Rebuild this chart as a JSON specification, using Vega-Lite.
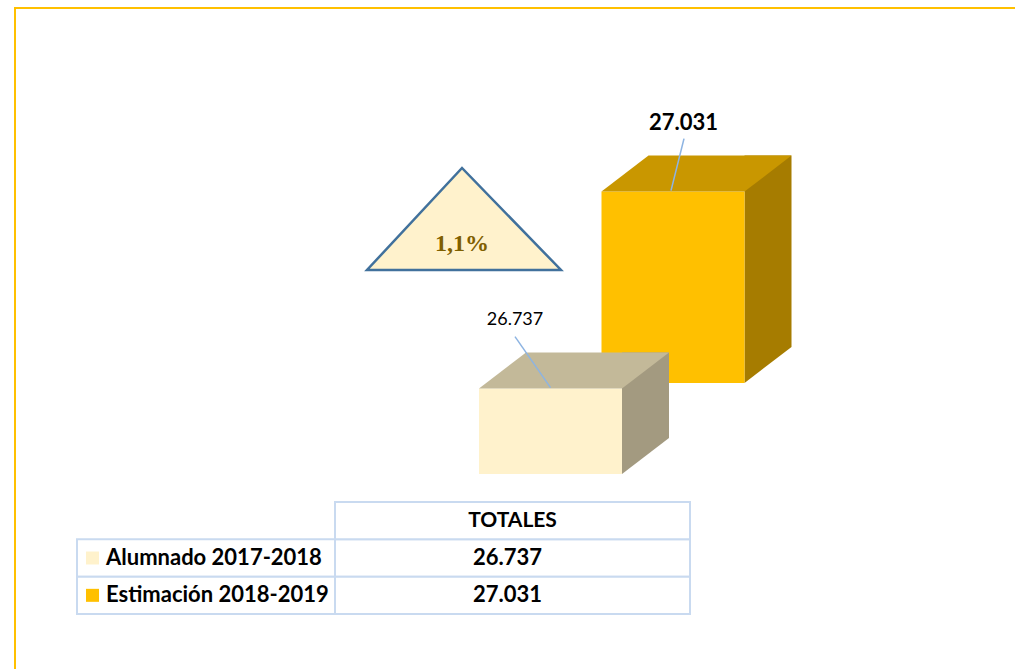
{
  "$schema": "https://vega.github.io/schema/vega-lite/v6.json",
  "autosize": {"type": "none"},
  "width": 1040,
  "height": 700,
  "padding": {"left": 15, "top": 8, "right": 0, "bottom": 0},
  "background": "white",
  "config": {
    "view": {"stroke": "#FFC000", "strokeWidth": 2},
    "axis": {"disable": true},
    "font": "Lato",
    "locale": {"number": {"decimal": ",", "thousands": ".", "grouping": [3], "currency": ["", " €"]}}
  },
  "data": {"values": [
    {"serie": "Alumnado 2017-2018", "valor": 26737},
    {"serie": "Estimación 2018-2019", "valor": 27031, "variacion": 0.011}
  ]},
  "resolve": {"scale": {"x": "independent", "y": "independent"}},
  "layer": [
    {
      "encoding": {
        "x": {"field": "serie", "type": "nominal", "axis": null,
              "scale": {"type": "point", "domain": ["Alumnado 2017-2018", "Estimación 2018-2019"], "range": [535.5, 658], "padding": 0}},
        "y": {"field": "valor", "type": "quantitative", "axis": null,
              "scale": {"domain": [26500, 27500], "range": [466, 105.5], "zero": false, "nice": false}}
      },
      "layer": [
        {
          "transform": [{"filter": {"field": "serie", "equal": "Estimación 2018-2019"}}],
          "layer": [
            {"mark": {"type": "point", "shape": "M-0.97,0L0.97,0L-0.02,-1.02Z", "size": 40000, "filled": true, "opacity": 1,
                      "fill": "#FFF2CC", "stroke": "#41719C", "strokeWidth": 2.5, "xOffset": -209, "yOffset": -204},
             "encoding": {"y": {"datum": 26500}}},
            {"mark": {"type": "text", "font": "Liberation Serif", "fontWeight": "bold", "fontSize": 24, "color": "#7F6000",
                      "align": "center", "baseline": "middle", "dx": -211, "dy": -230},
             "encoding": {"y": {"datum": 26500}, "text": {"field": "variacion", "type": "quantitative", "format": ".1%"}}},
            {"mark": {"type": "bar", "width": 47, "xOffset": 95, "yOffset": -127, "y2Offset": -127, "color": "#A67C00"},
             "encoding": {"y2": {"datum": 26500}}},
            {"mark": {"type": "point", "shape": "M0.715,-0.36L0.715,0L1.185,-0.36Z", "size": 40000, "filled": true, "opacity": 1,
                      "strokeWidth": 0, "color": "#A67C00", "yOffset": -91},
             "encoding": {"y": {"datum": 26500}}},
            {"mark": {"type": "bar", "width": 143, "yOffset": -91, "y2Offset": -91, "color": "#FFC000"},
             "encoding": {"y2": {"datum": 26500}}},
            {"mark": {"type": "point", "shape": "M-0.715,0L0.715,0L1.185,-0.36L-0.245,-0.36Z", "size": 40000, "filled": true, "opacity": 1,
                      "strokeWidth": 0, "color": "#C99700", "yOffset": -91}},
            {"mark": {"type": "point", "shape": "M-0.02,-0.01L0.11,-0.53", "size": 40000, "filled": false, "opacity": 1,
                      "stroke": "#8DB4E2", "strokeWidth": 1.5, "yOffset": -91}},
            {"mark": {"type": "text", "fontWeight": "bold", "fontSize": 22, "color": "#000000", "align": "center", "baseline": "middle",
                      "dx": 10.5, "dy": -160},
             "encoding": {"text": {"field": "valor", "type": "quantitative", "format": ",d"}}}
          ]
        },
        {
          "transform": [{"filter": {"field": "serie", "equal": "Alumnado 2017-2018"}}],
          "layer": [
            {"mark": {"type": "bar", "width": 47, "xOffset": 95, "yOffset": -36, "y2Offset": -36, "color": "#A39A80"},
             "encoding": {"y2": {"datum": 26500}}},
            {"mark": {"type": "point", "shape": "M0.715,-0.36L0.715,0L1.185,-0.36Z", "size": 40000, "filled": true, "opacity": 1,
                      "strokeWidth": 0, "color": "#A39A80"},
             "encoding": {"y": {"datum": 26500}}},
            {"mark": {"type": "bar", "width": 143, "color": "#FFF2CC"},
             "encoding": {"y2": {"datum": 26500}}},
            {"mark": {"type": "point", "shape": "M-0.715,0L0.715,0L1.185,-0.36L-0.245,-0.36Z", "size": 40000, "filled": true, "opacity": 1,
                      "strokeWidth": 0, "color": "#C3B999"}},
            {"mark": {"type": "point", "shape": "M0,-0.01L-0.355,-0.52", "size": 40000, "filled": false, "opacity": 1,
                      "stroke": "#8DB4E2", "strokeWidth": 1.5}},
            {"mark": {"type": "text", "fontSize": 18, "color": "#000000", "align": "center", "baseline": "middle",
                      "dx": -35.5, "dy": -69},
             "encoding": {"text": {"field": "valor", "type": "quantitative", "format": ",d"}}}
          ]
        }
      ]
    },
    {
      "encoding": {
        "y": {"field": "serie", "type": "nominal", "axis": null,
              "scale": {"type": "band", "domain": ["TOTALES", "Alumnado 2017-2018", "Estimación 2018-2019"], "range": [494, 606], "paddingInner": 0, "paddingOuter": 0}},
        "x": {"datum": "TOTALES", "type": "nominal", "axis": null,
              "scale": {"type": "point", "domain": ["concepto", "TOTALES"], "range": [191, 497.5], "padding": 0}}
      },
      "layer": [
        {"mark": {"type": "rect", "width": 355, "fill": "white", "stroke": "#C9DAF0", "strokeWidth": 2}},
        {"mark": {"type": "rect", "width": 258, "fill": "white", "stroke": "#C9DAF0", "strokeWidth": 2},
         "encoding": {"x": {"datum": "concepto", "type": "nominal"}}},
        {"data": {"values": [{}]},
         "mark": {"type": "rect", "width": 355, "fill": "white", "stroke": "#C9DAF0", "strokeWidth": 2},
         "encoding": {"y": {"datum": "TOTALES", "type": "nominal"}}},
        {"data": {"values": [{}]},
         "mark": {"type": "text", "fontWeight": "bold", "fontSize": 21, "color": "#000000", "align": "center", "baseline": "middle", "text": "TOTALES"},
         "encoding": {"y": {"datum": "TOTALES", "type": "nominal"}}},
        {"mark": {"type": "point", "shape": "square", "size": 169, "filled": true, "opacity": 1, "strokeWidth": 0, "xOffset": -113.5},
         "encoding": {"x": {"datum": "concepto", "type": "nominal"},
                      "color": {"field": "serie", "type": "nominal", "legend": null,
                                "scale": {"domain": ["Alumnado 2017-2018", "Estimación 2018-2019"], "range": ["#FFF2CC", "#FFC000"]}}}},
        {"mark": {"type": "text", "fontWeight": "bold", "fontSize": 22, "color": "#000000", "align": "left", "baseline": "middle", "dx": -100},
         "encoding": {"x": {"datum": "concepto", "type": "nominal"}, "text": {"field": "serie", "type": "nominal"}}},
        {"mark": {"type": "text", "fontWeight": "bold", "fontSize": 22, "color": "#000000", "align": "center", "baseline": "middle", "dx": -5},
         "encoding": {"text": {"field": "valor", "type": "quantitative", "format": ",d"}}}
      ]
    }
  ]
}
